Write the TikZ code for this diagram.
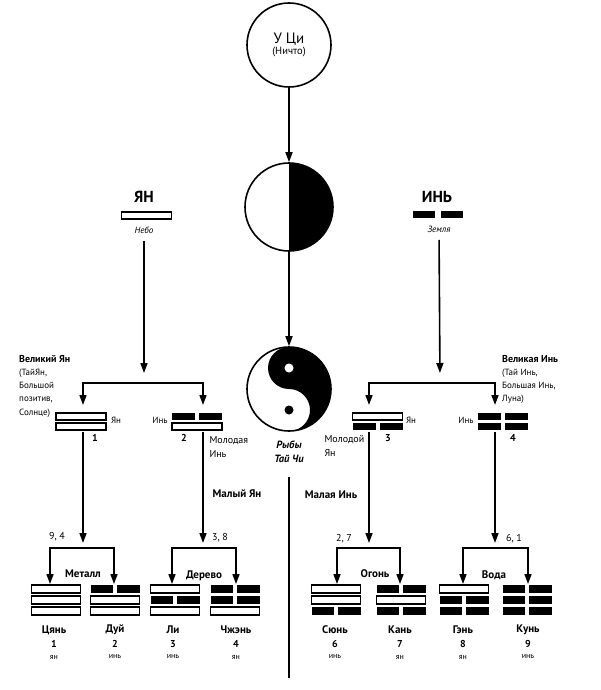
\documentclass[tikz,border=0pt]{standalone}
\usepackage{fontspec}
\setmainfont{PT Sans}
\usetikzlibrary{arrows.meta}
\newcommand\yangb[4]{\draw[barline,fill=white] ({#1-#3/2},{#2-#4}) rectangle ({#1+#3/2},{#2+#4});}
\newcommand\yinb[5]{\fill ({#1-#3/2},{#2-#4}) rectangle ({#1-#5},{#2+#4}); \fill ({#1+#5},{#2-#4}) rectangle ({#1+#3/2},{#2+#4});}
\newcommand\tY[2]{\yangb{#1}{#2}{49}{4}}
\newcommand\tN[2]{\yinb{#1}{#2}{49}{4}{2}}
\newcommand\bY[2]{\yangb{#1}{#2}{50}{3.5}}
\newcommand\bN[2]{\yinb{#1}{#2}{50}{3.5}{2}}
\tikzset{
  ln/.style={line width=1.6pt},
  barline/.style={line width=1.2pt},
  arr/.style={ln,-{Triangle[length=10pt,width=7pt]}},
  barr/.style={ln,{Triangle[length=10pt,width=7pt]}-{Triangle[length=10pt,width=7pt]}},
  gram/.style={inner sep=0,outer sep=0,minimum width=50,minimum height=27},
  tri/.style={inner sep=0,outer sep=0,minimum width=49,minimum height=31},
  bigT/.style={font=\bfseries\fontsize{16}{18}\selectfont},
  ital/.style={font=\itshape\fontsize{9}{10}\selectfont},
  small/.style={font=\fontsize{9}{10}\selectfont},
  note/.style={font=\fontsize{10}{14.5}\selectfont,align=left},
  bnum/.style={font=\bfseries\fontsize{10}{11}\selectfont},
  numl/.style={font=\fontsize{10}{11}\selectfont},
  elem/.style={font=\bfseries\fontsize{11}{12}\selectfont},
  tname/.style={font=\bfseries\fontsize{11}{12}\selectfont},
  tyy/.style={font=\fontsize{8}{9}\selectfont},
}
\begin{document}
\begin{tikzpicture}[x=1pt,y=1pt]
\useasboundingbox (0,0) rectangle (600,-690);
\fill[white] (0,0) rectangle (600,-690);

% Wu Ji
\node[circle,draw,ln,minimum size=84,inner sep=0,align=center] (wuji) at (289,-45)
  {{\fontsize{15}{17}\selectfont У Ци}\\[-1pt]{\fontsize{10.5}{12}\selectfont (Ничто)}};

% half circle
\fill (289,-163) arc[start angle=90,end angle=-90,radius=44] -- cycle;
\node[circle,draw,ln,minimum size=88,inner sep=0] (taiji) at (289,-207) {};

% yin-yang
\fill (289,-347) arc[start angle=90,end angle=-90,radius=42]
  arc[start angle=-90,end angle=90,radius=21]
  arc[start angle=270,end angle=90,radius=21] -- cycle;
\fill[white] (289,-368) circle[radius=4.5];
\fill (289,-410) circle[radius=4.5];
\node[circle,draw,ln,minimum size=84,inner sep=0] (yy) at (289,-389) {};

\draw[arr] (wuji) -- (taiji);
\draw[arr] (taiji) -- (yy);

\node[font=\bfseries\itshape\fontsize{10.5}{14}\selectfont,align=center] (ryby) at (289,-452) {Рыбы\\Тай Чи};
\coordinate (axs) at (289,-477);
\coordinate (axe) at (289,-678);
\draw[ln] (axs) -- (axe);

% Yang / Yin
\node[bigT] (yanT) at (144,-197) {ЯН};
\bY{146.5}{-215.5}
\node[ital] (yanS) at (144,-230) {Небо};
\node[bigT] (yinT) at (437,-197) {ИНЬ};
\yinb{438}{-214.5}{50}{3.5}{3}
\node[ital] (yinS) at (439,-229) {Земля};

\coordinate (k1) at (144,-383);
\coordinate (k2) at (440,-383);
\draw[arr,shorten <=4pt,shorten >=10pt] (yanS) -- (k1);
\draw[arr,shorten <=4pt,shorten >=10pt] (yinS) -- (k2);

% bigrams
\node[gram] (b1) at (83,-418.5) {};
\node[gram] (b2) at (203,-418.5) {};
\node[gram] (b3) at (369,-418.5) {};
\node[gram] (b4) at (495,-418.5) {};
\draw[barr] (b1.north) |- (k1) -| (b2.north);
\draw[barr] (b3.north) |- (k2) -| (b4.north);

\bY{81}{-416.5} \bY{81}{-426.5}
\bN{197}{-416.5} \bY{197}{-426.5}
\bY{377.5}{-416.5} \bN{377.5}{-426.5}
\bN{503}{-416.5} \bN{503}{-426.5}

\node[small] (l1) at (116,-420) {Ян};
\node[small] (l2) at (160,-420) {Инь};
\node[small] (l3) at (411,-420) {Ян};
\node[small] (l4) at (466,-420) {Инь};
\node[bnum] (n1) at (95,-438) {1};
\node[bnum] (n2) at (184,-438) {2};
\node[bnum] (n3) at (388,-438) {3};
\node[bnum] (n4) at (513,-438) {4};

\node[note,anchor=west] (myin) at (206,-447) {Молодая\\Инь};
\node[note,anchor=west] (myan) at (321,-446) {Молодой\\Ян};

\node[anchor=north west,inner sep=0,align=left,font=\fontsize{9}{13.2}\selectfont] (gyan) at (19,-355)
  {{\bfseries\fontsize{10}{13.2}\selectfont Великий Ян}\\(ТайЯн,\\Большой\\позитив,\\Солнце)};
\node[anchor=north west,inner sep=0,align=left,font=\fontsize{9}{13.2}\selectfont] (gyin) at (502,-355)
  {{\bfseries\fontsize{10}{13.2}\selectfont Великая Инь}\\(Тай Инь,\\Большая Инь,\\Луна)};

\node[elem] (myan2) at (237,-494) {Малый Ян};
\node[elem] (myin2) at (331,-495) {Малая Инь};

% lower brackets
\coordinate (k3) at (83,-548);
\coordinate (k4) at (203,-548);
\coordinate (k5) at (369,-548);
\coordinate (k6) at (495,-548);
\draw[arr,shorten >=5pt] (b1) -- (k3);
\draw[arr,shorten >=5pt] (b2) -- (k4);
\draw[arr,shorten >=5pt] (b3) -- (k5);
\draw[arr,shorten >=5pt] (b4) -- (k6);

\node[tri] (t1) at (50,-599.5) {};
\node[tri] (t2) at (114,-599.5) {};
\node[tri] (t3) at (172,-599.5) {};
\node[tri] (t4) at (236,-599.5) {};
\node[tri] (t5) at (337,-599.5) {};
\node[tri] (t6) at (400,-599.5) {};
\node[tri] (t7) at (463,-599.5) {};
\node[tri] (t8) at (528,-599.5) {};
\draw[barr] (t1.north) |- (k3) -| (t2.north);
\draw[barr] (t3.north) |- (k4) -| (t4.north);
\draw[barr] (t5.north) |- (k5) -| (t6.north);
\draw[barr] (t7.north) |- (k6) -| (t8.north);

\node[numl] (c1) at (57,-537) {9, 4};
\node[numl] (c2) at (220,-538) {3, 8};
\node[numl] (c3) at (344,-539) {2, 7};
\node[numl] (c4) at (514,-539) {6, 1};

\node[elem] (e1) at (83,-574) {Металл};
\node[elem] (e2) at (204,-576) {Дерево};
\node[elem] (e3) at (375,-574) {Огонь};
\node[elem] (e4) at (494,-575) {Вода};

% trigrams
\tY{56}{-589} \tY{56}{-600} \tY{56}{-611}
\tN{115}{-589} \tY{115}{-600} \tY{115}{-611}
\tY{175}{-589} \tN{175}{-600} \tY{175}{-611}
\tN{235}{-589} \tN{235}{-600} \tY{235}{-611}
\tY{336}{-589} \tY{336}{-600} \tN{336}{-611}
\tN{401}{-589} \tY{401}{-600} \tN{401}{-611}
\tY{464}{-589} \tN{464}{-600} \tN{464}{-611}
\tN{527}{-589} \tN{527}{-600} \tN{527}{-611}

\node[tname] (m1) at (54,-630) {Цянь};
\node[tname] (m2) at (115,-630) {Дуй};
\node[tname] (m3) at (173,-630) {Ли};
\node[tname] (m4) at (236,-630) {Чжэнь};
\node[tname] (m5) at (335,-630) {Сюнь};
\node[tname] (m6) at (400,-630) {Кань};
\node[tname] (m7) at (463,-630) {Гэнь};
\node[tname] (m8) at (528,-630) {Кунь};
\node[bnum] (d1) at (54,-644) {1};
\node[bnum] (d2) at (115,-644) {2};
\node[bnum] (d3) at (173,-644) {3};
\node[bnum] (d4) at (236,-644) {4};
\node[bnum] (d5) at (335,-644) {6};
\node[bnum] (d6) at (400,-644) {7};
\node[bnum] (d7) at (463,-644) {8};
\node[bnum] (d8) at (528,-644) {9};
\node[tyy] (y1) at (54,-657) {ян};
\node[tyy] (y2) at (115,-657) {инь};
\node[tyy] (y3) at (173,-657) {инь};
\node[tyy] (y4) at (236,-657) {ян};
\node[tyy] (y5) at (335,-657) {инь};
\node[tyy] (y6) at (400,-657) {ян};
\node[tyy] (y7) at (463,-657) {ян};
\node[tyy] (y8) at (528,-657) {инь};
\end{tikzpicture}
\end{document}
